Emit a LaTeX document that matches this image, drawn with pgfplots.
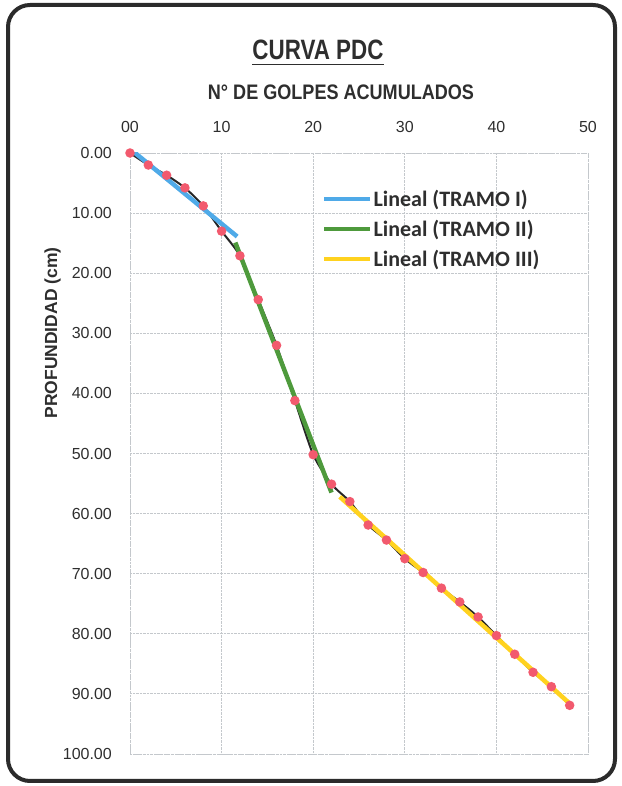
\documentclass[border=0pt]{standalone}
\usepackage{fontspec}
\setmainfont{Liberation Sans}
\newfontfamily\narrowfont[FakeStretch=0.86]{Liberation Sans}
\newfontfamily\titlefont[FakeStretch=0.8]{Liberation Sans}
\newfontfamily\legfont{Carlito}
\usepackage{pgfplots}
\pgfplotsset{compat=1.18}
\definecolor{frame}{HTML}{2B2B2B}
\definecolor{mkred}{HTML}{F25A6E}
\definecolor{tblue}{HTML}{4FAAE8}
\definecolor{tgreen}{HTML}{4E9A3C}
\definecolor{tyellow}{HTML}{FFD21F}
\definecolor{txt}{HTML}{2E2E2E}
\definecolor{gridc}{HTML}{C4C8CC}
\begin{document}
\begin{tikzpicture}[x=1pt,y=1pt]
\path[use as bounding box] (0,0) rectangle (621,786);
\draw[line width=4pt, rounded corners=22pt, frame] (8,5) rectangle (615,781);
\node[anchor=base, inner sep=0pt, font=\titlefont\bfseries\fontsize{28}{30}\selectfont, text=txt] (t) at (318,726) {CURVA PDC};
\draw[line width=1.8pt, txt] ([yshift=-4.5pt]t.base west) -- ([yshift=-4.5pt]t.base east);
\node[anchor=base, inner sep=0pt, font=\narrowfont\bfseries\fontsize{21}{23}\selectfont, text=txt] at (341,686) {N° DE GOLPES ACUMULADOS};
\node[rotate=90, anchor=base, inner sep=0pt, font=\bfseries\fontsize{17.5}{19}\selectfont, text=txt] at (57,453) {PROFUNDIDAD (cm)};
\begin{axis}[
  at={(130pt,633pt)}, anchor=north west,
  scale only axis, width=458pt, height=601pt,
  xmin=0, xmax=50, ymin=0, ymax=100,
  y dir=reverse,
  xtick={0,10,20,30,40,50},
  xticklabels={00,10,20,30,40,50},
  ytick={0,10,20,30,40,50,60,70,80,90,100},
  xticklabel pos=top,
  major tick length=0pt,
  grid=major,
  grid style={gridc, densely dotted, line width=0.9pt},
  axis line style={gridc, densely dotted, line width=0.9pt},
  /pgf/number format/assume math mode=true,
  tick label style={font=\fontsize{16}{18}\selectfont, text=txt},
  xticklabel style={anchor=base, inner sep=0pt, yshift=20pt},
  yticklabel style={anchor=east, inner sep=0pt, xshift=-18pt,
     /pgf/number format/.cd, fixed, fixed zerofill, precision=2},
  legend cell align=left,
  legend style={at={(0.419,0.94)}, anchor=north west, draw=none, fill=none,
     font=\legfont\bfseries\fontsize{22}{24}\selectfont, text=txt,
     row sep=10pt, inner sep=0pt, nodes={inner sep=1pt}},
  legend image code/.code={\draw[#1] (0pt,0pt) -- (46pt,0pt);},
]
\addplot[black!85, line width=2pt, smooth, tension=0.4, mark=*, mark options={mkred, draw=none, fill=mkred}, mark size=3.7pt, forget plot] coordinates {
(0,0) (2,2.0) (4,3.7) (6,5.8) (8,8.8) (10,13.0) (12,17.1) (14,24.4) (16,32.0)
(18,41.2) (20,50.2) (22,55.1) (24,58.0) (26,61.9) (28,64.4) (30,67.5)
(32,69.8) (34,72.4) (36,74.7) (38,77.2) (40,80.3) (42,83.4) (44,86.4)
(46,88.8) (48,91.9)};
\addplot[tblue, line width=4.5pt] coordinates {(0.4,-0.2) (11.7,13.9)};
\addlegendentry{Lineal (TRAMO I)}
\addplot[tgreen, line width=4.5pt] coordinates {(11.5,14.9) (22,56.5)};
\addlegendentry{Lineal (TRAMO II)}
\addplot[tyellow, line width=4.5pt] coordinates {(22.9,57.2) (48,91.6)};
\addlegendentry{Lineal (TRAMO III)}
\end{axis}
\end{tikzpicture}
\end{document}
